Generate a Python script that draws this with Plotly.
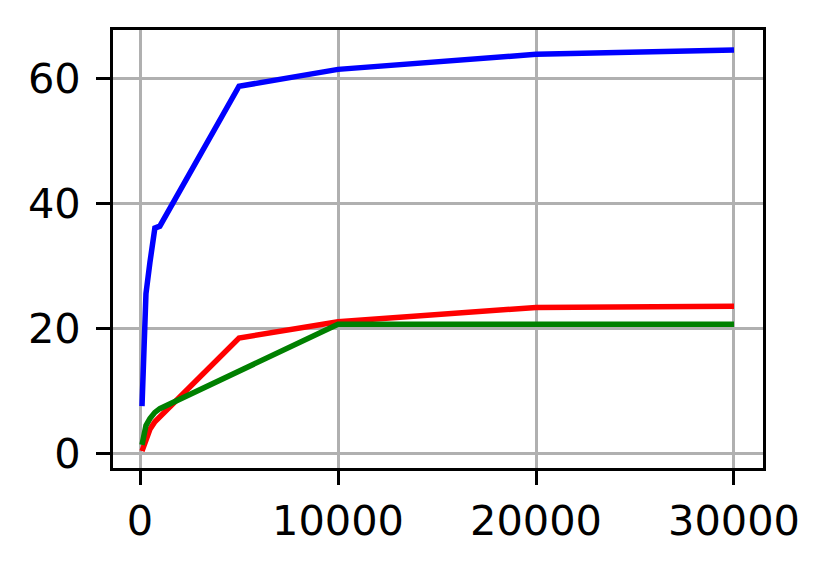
import plotly.graph_objects as go

# shared x positions
x_vals = [100, 200, 300, 500, 750, 1000, 5000, 10000, 20000, 30000]

# series values
blue_vals = [7.5, 17.0, 25.5, 30.5, 36.0, 36.3, 58.7, 61.4, 63.8, 64.5]
red_vals = [0.3, 1.3, 2.3, 3.8, 5.0, 5.8, 18.4, 21.0, 23.3, 23.5]
green_vals = [1.3, 3.0, 4.4, 5.5, 6.5, 7.1, 13.1, 20.6, 20.6, 20.6]

x_ticks = [0, 10000, 20000, 30000]
x_tick_labels = ["0", "10000", "20000", "30000"]
y_ticks = [0, 20, 40, 60]


def line(y, color):
    return go.Scatter(
        x=x_vals,
        y=y,
        mode='lines',
        line={'color': color, 'width': 5.5},
        showlegend=False,
        hoverinfo='skip',
    )


fig = go.Figure()
fig.add_trace(line(blue_vals, '#0000ff'))
fig.add_trace(line(red_vals, '#ff0000'))
fig.add_trace(line(green_vals, '#008000'))

axis_style = {
    'showline': True,
    'mirror': True,
    'linecolor': 'black',
    'linewidth': 3,
    'showgrid': True,
    'gridcolor': '#b0b0b0',
    'gridwidth': 3,
    'zeroline': False,
    'ticks': 'outside',
    'ticklen': 14,
    'tickwidth': 3,
    'tickcolor': 'black',
}

# page body adds an 8px offset, so margins are shifted to compensate
fig.update_layout(
    width=830,
    height=569,
    paper_bgcolor='white',
    plot_bgcolor='white',
    margin={'l': 105, 'r': 75, 't': 22, 'b': 109},
    font={'family': 'DejaVu Sans', 'size': 41.5, 'color': 'black'},
    xaxis={**axis_style, 'range': [-1365, 31465], 'ticklabelstandoff': 0,
           'tickvals': x_ticks, 'ticktext': x_tick_labels},
    yaxis={**axis_style, 'range': [-2.4, 67.7], 'ticklabelstandoff': 7,
           'tickvals': y_ticks},
)

fig.write_html("out.html")
